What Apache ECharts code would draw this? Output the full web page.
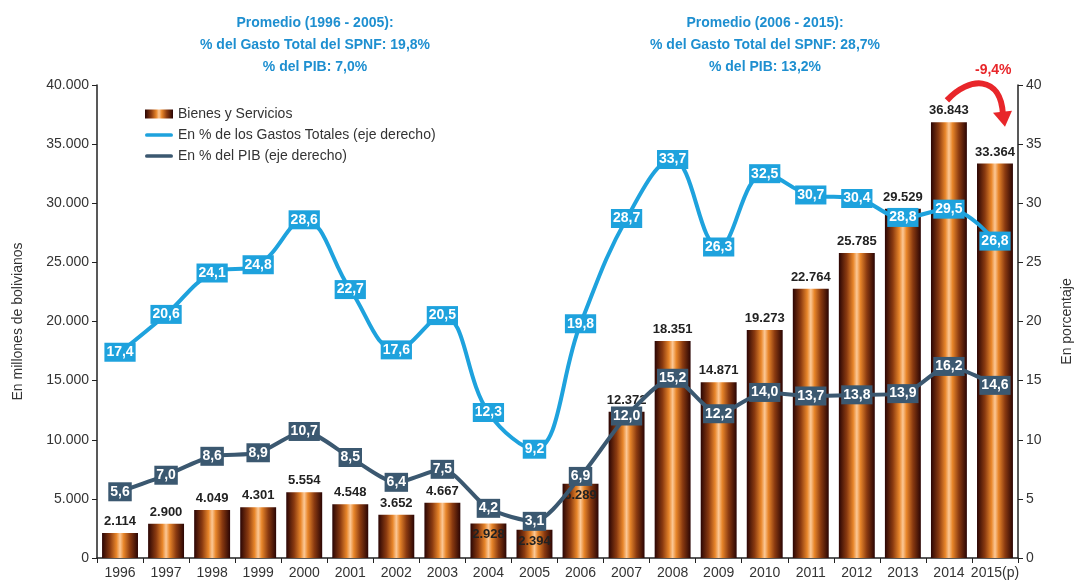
<!DOCTYPE html>
<html><head><meta charset="utf-8">
<script src="https://cdn.jsdelivr.net/npm/echarts@6/dist/echarts.min.js"></script>
<style>html,body{margin:0;padding:0;background:#fff}#c{width:1084px;height:585px}</style>
</head><body><div id="c"></div>
<script>
const years = ['1996','1997','1998','1999','2000','2001','2002','2003','2004','2005','2006','2007','2008','2009','2010','2011','2012','2013','2014','2015(p)'];
const bienes = [2114,2900,4049,4301,5554,4548,3652,4667,2928,2394,6289,12372,18351,14871,19273,22764,25785,29529,36843,33364];
const pctGastos = [17.4,20.6,24.1,24.8,28.6,22.7,17.6,20.5,12.3,9.2,19.8,28.7,33.7,26.3,32.5,30.7,30.4,28.8,29.5,26.8];
const pctPIB = [5.6,7.0,8.6,8.9,10.7,8.5,6.4,7.5,4.2,3.1,6.9,12.0,15.2,12.2,14.0,13.7,13.8,13.9,16.2,14.6];
const leftTicks = [0,5000,10000,15000,20000,25000,30000,35000,40000];
const rightTicks = [0,5,10,15,20,25,30,35,40];
const change = '-9,4%';

const fmtThousands = v => v === 0 ? '0' : String(v).replace(/\B(?=(\d{3})+(?!\d))/g, '.');
const fmtPct = v => v.toFixed(1).replace('.', ',');
const insideIdx = [8,9,10];

const barGrad = new echarts.graphic.LinearGradient(0,0,1,0,[
  {offset:0,color:'#2a0504'},
  {offset:0.22,color:'#8a3a10'},
  {offset:0.4,color:'#e8862a'},
  {offset:0.5,color:'#fcc896'},
  {offset:0.6,color:'#e8862a'},
  {offset:0.78,color:'#8a3a10'},
  {offset:1,color:'#2a0504'}
]);
const font = 'Liberation Sans, Arial, sans-serif';
const blue = '#1ea2dd', navy = '#3b5870', red = '#e8262a';
const lineIcon = 'path://M0,2 L28,2 Q30,2 30,4 Q30,6 28,6 L2,6 Q0,6 0,4 Q0,2 2,2 Z';

const chart = echarts.init(document.getElementById('c'), null, {renderer:'canvas'});
chart.setOption({
  animation:false,
  textStyle:{fontFamily:font},
  title:[
    {text:'Promedio (1996 - 2005):\n% del Gasto Total del SPNF: 19,8%\n% del PIB: 7,0%', left:310, top:7, textAlign:'center',
     textStyle:{color:'#1e8fd0',fontSize:14,fontWeight:'bold',lineHeight:22,fontFamily:font}},
    {text:'Promedio (2006 - 2015):\n% del Gasto Total del SPNF: 28,7%\n% del PIB: 13,2%', left:760, top:7, textAlign:'center',
     textStyle:{color:'#1e8fd0',fontSize:14,fontWeight:'bold',lineHeight:22,fontFamily:font}}
  ],
  legend:{
    left:140, top:102, orient:'vertical', itemGap:7, itemWidth:28, itemHeight:9,
    textStyle:{fontSize:14,color:'#333',fontFamily:font},
    data:[
      {name:'Bienes y Servicios', icon:'rect'},
      {name:'En % de los Gastos Totales (eje derecho)', icon:lineIcon},
      {name:'En % del PIB (eje derecho)', icon:lineIcon}
    ]
  },
  grid:{left:97, right:66, top:85, bottom:27},
  xAxis:{type:'category', data:years,
    axisLine:{lineStyle:{color:'#222',width:1.5}},
    axisTick:{show:true, lineStyle:{color:'#222'}},
    axisLabel:{color:'#333',fontSize:14,margin:8,interval:0}},
  yAxis:[
    {type:'value', min:0, max:40000, interval:5000, position:'left',
     name:'En millones de bolivianos', nameLocation:'middle', nameGap:72, nameRotate:90,
     nameTextStyle:{fontSize:14,color:'#333'},
     axisLine:{show:true,lineStyle:{color:'#222',width:1.5}}, axisTick:{show:true,lineStyle:{color:'#222'}},
     splitLine:{show:false},
     axisLabel:{color:'#333',fontSize:14,formatter:fmtThousands}},
    {type:'value', min:0, max:40, interval:5, position:'right',
     name:'En porcentaje', nameLocation:'middle', nameGap:42, nameRotate:90,
     nameTextStyle:{fontSize:14,color:'#333'},
     axisLine:{show:true,lineStyle:{color:'#222',width:1.5}}, axisTick:{show:true,lineStyle:{color:'#222'}},
     splitLine:{show:false},
     axisLabel:{color:'#333',fontSize:14}}
  ],
  series:[
    {name:'Bienes y Servicios', type:'bar', barWidth:'78%', yAxisIndex:0, z:2,
     itemStyle:{color:barGrad},
     data:bienes.map((v,i)=>({value:v, label:{position: insideIdx.includes(i)?'insideTop':'top'}})),
     label:{show:true, position:'top', distance:5, fontSize:13, fontWeight:'bold', color:'#222', formatter:p=>fmtThousands(p.value)}
    },
    {name:'En % de los Gastos Totales (eje derecho)', type:'line', yAxisIndex:1, smooth:0.4, z:4,
     data:pctGastos, symbol:'circle', symbolSize:2, showSymbol:true, color:blue, itemStyle:{color:blue}, lineStyle:{color:blue,width:4},
     label:{show:true, position:'inside', color:'#fff', fontSize:14, fontWeight:'bold', backgroundColor:blue, padding:[3,2,2,2], formatter:p=>fmtPct(p.value)}},
    {name:'En % del PIB (eje derecho)', type:'line', yAxisIndex:1, smooth:0.25, z:5,
     data:pctPIB, symbol:'circle', symbolSize:2, showSymbol:true, color:navy, itemStyle:{color:navy}, lineStyle:{color:navy,width:4},
     label:{show:true, position:'inside', color:'#fff', fontSize:14, fontWeight:'bold', backgroundColor:navy, padding:[3,2,2,2], formatter:p=>fmtPct(p.value)}}
  ]
});

// curved annotation arrow between the 2014 and 2015(p) bar tops
const p0 = chart.convertToPixel({gridIndex:0}, [years[18], 38700]);
const p1 = chart.convertToPixel({gridIndex:0}, [years[19], 36800]);
const sx = p0[0] - 2, sy = p0[1];
const ex = p1[0] + 8, ey = p1[1] - 8;
chart.setOption({
  graphic:[
    {type:'bezierCurve', z:100, shape:{x1:sx, y1:sy, x2:ex, y2:ey, cpx1:sx+22, cpy1:sy-24, cpx2:ex-2, cpy2:ey-40},
     style:{stroke:red, lineWidth:6, fill:null}},
    {type:'polygon', z:100, shape:{points:[[ex-10,ey-2],[ex+9,ey-4],[ex+2,ey+12]]}, style:{fill:red}},
    {type:'text', z:100, left:975, top:63, style:{text:change, fill:red, font:'bold 14px '+font}}
  ]
});
</script></body></html>
